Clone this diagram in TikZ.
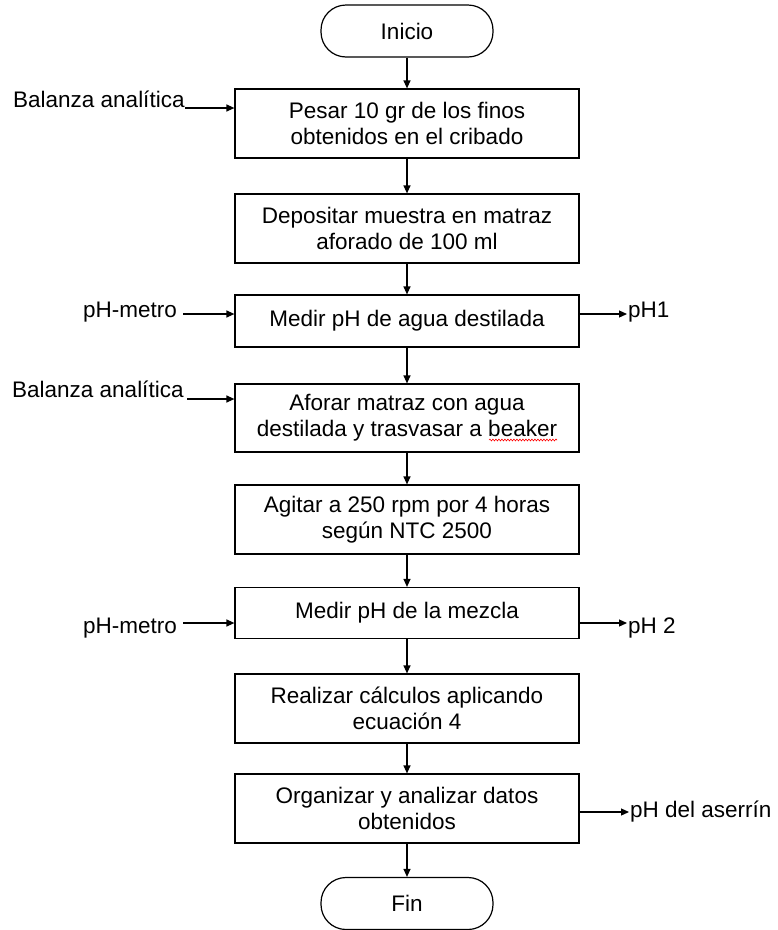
\documentclass[tikz,border=0pt]{standalone}
\usepackage{fontspec}
\setmainfont{Liberation Sans}
\usetikzlibrary{arrows.meta,decorations.pathmorphing,calc}
\begin{document}
\begin{tikzpicture}[x=1pt,y=-1pt,
  every node/.style={font=\fontsize{22.5}{26}\selectfont},
  procbox/.style={draw, line width=1.2pt, minimum width=344pt, inner sep=0pt, align=center},
  term/.style={draw, line width=1.2pt, rounded corners=25pt, minimum width=172pt, minimum height=52pt, inner sep=0pt},
  lbl/.style={inner sep=0pt},
  arr/.style={line width=1.2pt, -{Triangle[length=8pt,width=7pt]}}]
\useasboundingbox (0,0) rectangle (778,930);

\node[term] (start) at (407,31) {Inicio};
\node[procbox, minimum height=69pt] (b1) at (407,123.5) {Pesar 10 gr de los finos\\obtenidos en el cribado};
\node[procbox, minimum height=69pt] (b2) at (407,228.5) {Depositar muestra en matraz\\aforado de 100 ml};
\node[procbox, minimum height=52pt] (b3) at (407,321) {Medir pH de agua destilada};
\node[procbox, minimum height=68pt] (b4) at (407,418) {Aforar matraz con agua\\destilada y trasvasar a beaker};
\node[procbox, minimum height=69pt] (b5) at (407,519.5) {Agitar a 250 rpm por 4 horas\\según NTC 2500};
\node[procbox, minimum height=51pt] (b6) at (407,613) {Medir pH de la mezcla};
\node[procbox, minimum height=69pt] (b7) at (407,708.5) {Realizar cálculos aplicando\\ecuación 4};
\node[procbox, minimum height=69pt] (b8) at (407,808.5) {Organizar y analizar datos\\obtenidos};
\node[term] (fin) at (407,903.5) {Fin};

\draw[arr] (start) -- (b1);
\draw[arr] (b1) -- (b2);
\draw[arr] (b2) -- (b3);
\draw[arr] (b3) -- (b4);
\draw[arr] (b4) -- (b5);
\draw[arr] (b5) -- (b6);
\draw[arr] (b6) -- (b7);
\draw[arr] (b7) -- (b8);
\draw[arr] (b8) -- (fin);

% side inputs / outputs
\node[lbl, anchor=base west] (bal1) at (13,107) {Balanza analítica};
\coordinate (s1) at (185,108);
\draw[arr] (s1) -- (s1 -| b1.west);

\node[lbl, anchor=base east] (pm1) at (177,317) {pH-metro};
\node[lbl, anchor=base west] (ph1) at (628,317) {pH1};
\coordinate (s3) at (183,314);
\draw[arr] (s3) -- (s3 -| b3.west);
\draw[arr] (s3 -| b3.east) -- ([xshift=-1pt]s3 -| ph1.west);

\node[lbl, anchor=base west] (bal2) at (12,397) {Balanza analítica};
\coordinate (s4) at (187,399);
\draw[arr] (s4) -- (s4 -| b4.west);

\node[lbl, anchor=base east] (pm2) at (177,633) {pH-metro};
\node[lbl, anchor=base west] (ph2) at (628,633) {pH 2};
\coordinate (s6) at (183,623);
\draw[arr] (s6) -- (s6 -| b6.west);
\draw[arr] (s6 -| b6.east) -- ([xshift=-1pt]s6 -| ph2.west);

\node[lbl, anchor=base west] (ph3) at (630,817) {pH del aserrín};
\coordinate (s8) at (579,812);
\draw[arr] (s8 -| b8.east) -- ([xshift=-1pt]s8 -| ph3.west);

% spell-check underline
\draw[red, line width=0.6pt, decorate, decoration={snake, amplitude=0.9pt, segment length=3pt}] (489,440) -- (557,440);
\end{tikzpicture}
\end{document}
